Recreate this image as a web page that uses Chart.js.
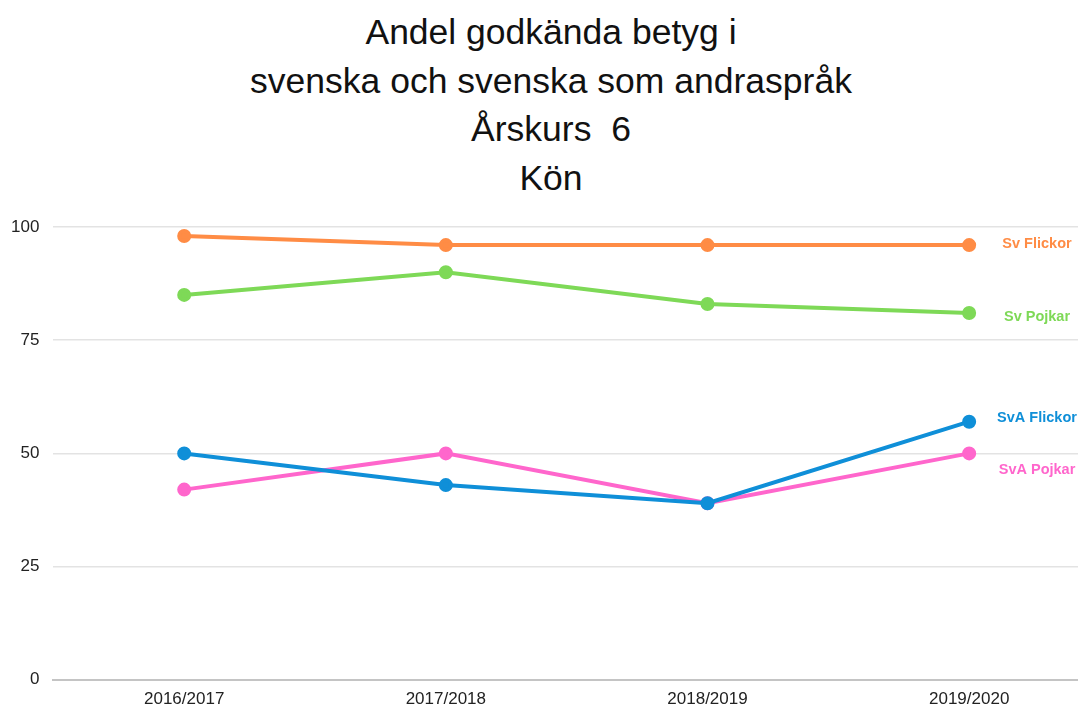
<!DOCTYPE html>
<html>
<head>
<meta charset="utf-8">
<script src="https://cdn.jsdelivr.net/npm/chart.js@4"></script>
<style>
  html, body { margin: 0; padding: 0; background: #fff; overflow: hidden; }
  #wrap { position: relative; width: 1078px; height: 704px; }
  #title {
    position: absolute; left: 24px; right: 0; top: 8px;
    text-align: center; font-family: "Liberation Sans", Arial, sans-serif;
    font-size: 35.5px; line-height: 48.5px; color: #111;
  }
  canvas { position: absolute; left: 0; top: 0; }
</style>
</head>
<body>
<div id="wrap">
  <div id="title">Andel godkända betyg i<br>svenska och svenska som andraspråk<br>Årskurs&nbsp;&nbsp;6<br>Kön</div>
  <canvas id="chart" width="1078" height="704"></canvas>
</div>
<script>
const years = ["2016/2017", "2017/2018", "2018/2019", "2019/2020"];
const yTicks = [0, 25, 50, 75, 100];

const svFlickor = [98, 96, 96, 96];
const svPojkar = [85, 90, 83, 81];
const svaFlickor = [50, 43, 39, 57];
const svaPojkar = [42, 50, 39, 50];

const seriesNames = ["Sv Flickor", "Sv Pojkar", "SvA Flickor", "SvA Pojkar"];
const seriesColors = ["#ff8c45", "#7ed957", "#0f8fd8", "#ff66cc"];
const seriesValues = [svFlickor, svPojkar, svaFlickor, svaPojkar];

// label nudges so the end labels don't collide
const labelNudge = [-1, 4, -4, 17];

const endLabels = {
    id: "endLabels",
    afterDatasetsDraw(chart) {
        const ctx = chart.ctx;
        ctx.save();
        ctx.font = "bold 14.5px 'Liberation Sans', Arial, sans-serif";
        ctx.textAlign = "center";
        ctx.textBaseline = "middle";
        chart.data.datasets.forEach((ds, i) => {
            const meta = chart.getDatasetMeta(i);
            const last = meta.data[meta.data.length - 1];
            ctx.fillStyle = ds.borderColor;
            ctx.fillText(ds.label, 1037, last.y + labelNudge[i]);
        });
        ctx.restore();
    },
};

new Chart(document.getElementById("chart"), {
    type: "line",
    data: {
        datasets: seriesValues.map((vals, i) => ({
            label: seriesNames[i],
            data: vals.map((v, j) => ({ x: j, y: v })),
            borderColor: seriesColors[i],
            backgroundColor: seriesColors[i],
            borderWidth: 4,
            pointRadius: 5,
            pointHoverRadius: 5,
            tension: 0,
        })),
    },
    options: {
        responsive: false,
        animation: false,
        layout: { autoPadding: false, padding: { top: 227, right: 0, left: -3, bottom: -15 } },
        plugins: {
            legend: { display: false },
            tooltip: { enabled: false },
        },
        scales: {
            x: {
                type: "linear",
                min: -0.5,
                max: 3.416,
                afterBuildTicks(scale) {
                    scale.ticks = years.map((_, i) => ({ value: i }));
                },
                ticks: {
                    callback: (v) => years[v],
                    color: "#222",
                    font: { family: "'Liberation Sans', Arial, sans-serif", size: 17 },
                    padding: 1,
                    maxRotation: 0,
                },
                grid: { display: false },
                border: { color: "#c4c4c4", width: 2 },
            },
            y: {
                min: 0,
                max: 100,
                afterBuildTicks(scale) {
                    scale.ticks = yTicks.map((v) => ({ value: v }));
                },
                ticks: {
                    color: "#222",
                    font: { family: "'Liberation Sans', Arial, sans-serif", size: 17 },
                    padding: 14,
                },
                grid: {
                    color: (c) => (c.tick && c.tick.value === 0 ? "#c4c4c4" : "#e3e3e3"),
                    lineWidth: 1.5,
                    drawTicks: false,
                },
                border: { display: false },
            },
        },
    },
    plugins: [endLabels],
});
</script>
</body>
</html>
